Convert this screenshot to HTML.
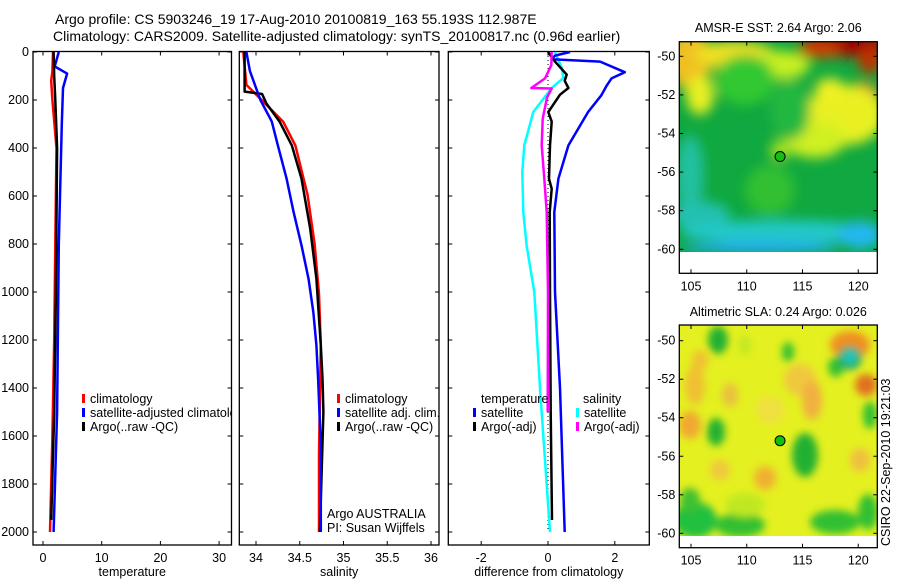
<!DOCTYPE html>
<html><head><meta charset="utf-8"><style>
html,body{margin:0;padding:0;background:#fff;}
svg text{font-family:"Liberation Sans",sans-serif;font-size:12.5px;fill:#000;}
svg text.ttl{font-size:14px;}
</style></head><body>
<svg id="fig" width="900" height="580" viewBox="0 0 900 580" xmlns="http://www.w3.org/2000/svg">
<defs>
<filter id="blur1" x="-20%" y="-20%" width="140%" height="140%"><feGaussianBlur stdDeviation="6"/></filter>
<filter id="blur2" x="-20%" y="-20%" width="140%" height="140%"><feGaussianBlur stdDeviation="4"/></filter>
<clipPath id="clipM1"><rect x="679" y="42" width="198" height="210"/></clipPath>
<clipPath id="clipM2"><rect x="679" y="325" width="198" height="211"/></clipPath>
<clipPath id="clipP1"><rect x="33" y="51" width="198" height="494"/></clipPath>
<clipPath id="clipP2"><rect x="239" y="51" width="200" height="494"/></clipPath>
<clipPath id="clipP3"><rect x="448" y="51" width="201" height="494"/></clipPath>
</defs>
<text class="ttl" x="55" y="24">Argo profile: CS 5903246_19 17-Aug-2010 20100819_163 55.193S 112.987E</text>
<text class="ttl" x="53" y="41">Climatology: CARS2009. Satellite-adjusted climatology: synTS_20100817.nc (0.96d earlier)</text>
<g id="g1"></g>
<g id="g2"></g>
<g id="g3"></g>
<g id="m1"></g>
<g id="m2"></g>
<text x="0" y="0" transform="translate(890,546) rotate(-90)">CSIRO 22-Sep-2010 19:21:03</text>
</svg>
<script>
// ---- data ----
const depthTicks=[0,200,400,600,800,1000,1200,1400,1600,1800,2000];
const tempTicks=[0,10,20,30];
const salTicks=[34,34.5,35,35.5,36];
const salTickLabels=["34","34.5","35","35.5","36"];
const diffTicks=[-2,0,2];
const lonTicks=[105,110,115,120];
const latTicks=[-50,-52,-54,-56,-58,-60];

const tClimDepth=[0,80,120,200,400,800,1200,1600,2000];
const tClimVal=[1.7,1.6,1.4,1.6,2.3,2.1,1.9,1.6,1.2];
const tSatDepth=[0,60,90,150,300,800,1500,2000];
const tSatVal=[2.7,2.0,4.1,3.4,3.2,2.7,2.4,1.8];
const tArgoDepth=[0,100,200,400,1000,1500,1950];
const tArgoVal=[1.8,1.9,2.1,2.4,2.2,1.9,1.4];

const sClimDepth=[0,137,200,290,390,596,800,1010,1220,1680,2000];
const sClimVal=[33.855,33.89,34.065,34.31,34.45,34.59,34.67,34.72,34.74,34.72,34.72];
const sSatDepth=[0,79,200,290,390,528,667,806,944,1083,1222,1360,1640,2000];
const sSatVal=[33.89,33.93,34.05,34.18,34.25,34.35,34.43,34.52,34.6,34.655,34.69,34.71,34.74,34.74];
const sArgoDepth=[0,165,175,215,290,390,528,736,944,1222,1360,1500,2000];
const sArgoVal=[33.87,33.87,34.07,34.12,34.27,34.41,34.52,34.62,34.69,34.74,34.76,34.77,34.73];

const dTSatDepth=[0,15,30,40,84,110,139,180,250,389,528,667,1000,1400,2000];
const dTSatVal=[0.66,0.21,0.11,1.56,2.3,1.9,1.76,1.6,1.2,0.61,0.31,0.19,0.21,0.36,0.5];
const dSSatDepth=[0,66,108,150,250,389,500,667,806,1000,1400,2000];
const dSSatVal=[0.21,0.41,0.46,0.11,-0.44,-0.71,-0.77,-0.74,-0.64,-0.41,-0.24,0.06];
const dTArgoDepth=[0,40,94,120,150,178,250,290,389,528,570,667,1000,1500,1950];
const dTArgoVal=[0,0.21,0.56,0.5,0.61,0.36,0.01,0.11,0.06,0.03,0.11,0.05,0.06,0.08,0.12];
const dSArgoDepth=[0,55,110,150,152,190,278,389,528,667,1000,1500];
const dSArgoVal=[0.11,0.1,-0.09,-0.5,0.11,-0.03,-0.16,-0.19,-0.11,-0.04,0,-0.01];

const argoLon=112.987, argoLat=-55.193;

// ---- helpers ----
const NS="http://www.w3.org/2000/svg";
function mk(tag,attrs,parent){const e=document.createElementNS(NS,tag);for(const k in attrs)e.setAttribute(k,attrs[k]);if(parent)parent.appendChild(e);return e;}
const yD=d=>52+d*0.24;
function panelAxes(g,L,R,T,B,xs,ticks,labels,xlabel,showY){
  const box=mk('rect',{x:L,y:T,width:R-L,height:B-T,fill:'none',stroke:'#000','stroke-width':1.3},g);
  
  
  depthTicks.forEach(d=>{const y=yD(d);
    mk('line',{x1:L,x2:L+4,y1:y,y2:y,stroke:'#000'},g);
    mk('line',{x1:R,x2:R-4,y1:y,y2:y,stroke:'#000'},g);
    if(showY){const t=mk('text',{x:L-4,y:y+4,'text-anchor':'end'},g);t.textContent=d;
      
      }
  });
  ticks.forEach((v,i)=>{const x=xs(v);
    mk('line',{x1:x,x2:x,y1:B,y2:B-4,stroke:'#000'},g);
    mk('line',{x1:x,x2:x,y1:T,y2:T+4,stroke:'#000'},g);
    const t=mk('text',{x:x,y:B+17,'text-anchor':'middle'},g);t.textContent=labels[i];
    
    
  });
  const xl=mk('text',{x:(L+R)/2,y:B+31,'text-anchor':'middle'},g);xl.textContent=xlabel;
  
  
}
function line(g,xs,ds,vs,color,w,name,clip){
  const pts=ds.map((d,i)=>xs(vs[i]).toFixed(1)+','+yD(d).toFixed(1)).join(' ');
  const p=mk('polyline',{points:pts,fill:'none',stroke:color,'stroke-width':w,'stroke-linejoin':'round','clip-path':'url(#'+clip+')'},g);
  
  
}
function legendEntry(g,x,y,color,label,name){
  mk('rect',{x:x,y:y-5,width:3,height:9,fill:color},g);
  const t=mk('text',{x:x+8,y:y+4},g);t.textContent=label;
  
  
}

// ---- panel 1: temperature ----
const g1=document.getElementById('g1');
const xT=v=>43+v*5.87;
panelAxes(g1,33,231.5,51.5,545,xT,tempTicks,tempTicks.map(String),'temperature',true);
line(g1,xT,tClimDepth,tClimVal,'#f00',2.5,'temperature-climatology-line','clipP1');
line(g1,xT,tSatDepth,tSatVal,'#00f',2.5,'temperature-satellite-line','clipP1');
line(g1,xT,tArgoDepth,tArgoVal,'#000',2.5,'temperature-argo-line','clipP1');
const lg1=mk('g',{'clip-path':'url(#clipP1)'},g1);
legendEntry(lg1,82,399,'#f00','climatology','legend-climatology');
legendEntry(lg1,82,413,'#00f','satellite-adjusted climatology','legend-satellite');
legendEntry(lg1,82,427,'#000','Argo(..raw -QC)','legend-argo');

// ---- panel 2: salinity ----
const g2=document.getElementById('g2');
const xS=v=>256+(v-34)*87.5;
panelAxes(g2,239.3,439,51.5,545,xS,salTicks,salTickLabels,'salinity',false);
line(g2,xS,sClimDepth,sClimVal,'#f00',2.5,'salinity-climatology-line','clipP2');
line(g2,xS,sArgoDepth,sArgoVal,'#000',2.5,'salinity-argo-line','clipP2');
line(g2,xS,sSatDepth,sSatVal,'#00f',2.5,'salinity-satellite-line','clipP2');
legendEntry(g2,337,399,'#f00','climatology','legend-climatology');
legendEntry(g2,337,413,'#00f','satellite adj. clim.','legend-satellite');
legendEntry(g2,337,427,'#000','Argo(..raw -QC)','legend-argo');
const a1=mk('text',{x:327,y:518},g2);a1.textContent='Argo AUSTRALIA';


const a2=mk('text',{x:327,y:532},g2);a2.textContent='PI: Susan Wijffels';



// ---- panel 3: differences ----
const g3=document.getElementById('g3');
const xDf=v=>548+v*33.4;
panelAxes(g3,448.3,649.3,51.5,545,xDf,diffTicks,diffTicks.map(String),'difference from climatology',false);
mk('line',{x1:xDf(0),x2:xDf(0),y1:yD(0),y2:yD(2000),stroke:'#000','stroke-dasharray':'1,3'},g3);
line(g3,xDf,dSSatDepth,dSSatVal,'#0ff',2.5,'salinity-satellite-diff-line','clipP3');
line(g3,xDf,dTSatDepth,dTSatVal,'#00f',2.5,'temperature-satellite-diff-line','clipP3');
line(g3,xDf,dTArgoDepth,dTArgoVal,'#000',2.5,'temperature-argo-diff-line','clipP3');
line(g3,xDf,dSArgoDepth,dSArgoVal,'#f0f',2.5,'salinity-argo-diff-line','clipP3');
const h1=mk('text',{x:481,y:403},g3);h1.textContent='temperature';


const h2=mk('text',{x:583,y:403},g3);h2.textContent='salinity';


legendEntry(g3,473,413,'#00f','satellite','legend-temp-satellite');
legendEntry(g3,473,427,'#000','Argo(-adj)','legend-temp-argo');
legendEntry(g3,576,413,'#0ff','satellite','legend-sal-satellite');
legendEntry(g3,576,427,'#f0f','Argo(-adj)','legend-sal-argo');

// ---- maps ----
const xLon=v=>691+(v-105)*11.15;
function mapAxes(g,T,B,yLat,title,titleY){
  const L=679.3,R=877.3;
  mk('rect',{x:L,y:T,width:R-L,height:B-T,fill:'none',stroke:'#000','stroke-width':1.3},g);
  lonTicks.forEach(v=>{const x=xLon(v);
    mk('line',{x1:x,x2:x,y1:T,y2:T+4,stroke:'#000'},g);
    mk('line',{x1:x,x2:x,y1:B,y2:B-4,stroke:'#000'},g);
    const t=mk('text',{x:x,y:B+17,'text-anchor':'middle'},g);t.textContent=v;
    
    });
  latTicks.forEach(v=>{const y=yLat(v);
    mk('line',{x1:L,x2:L+4,y1:y,y2:y,stroke:'#000'},g);
    mk('line',{x1:R,x2:R-4,y1:y,y2:y,stroke:'#000'},g);
    const t=mk('text',{x:L-4,y:y+4,'text-anchor':'end'},g);t.textContent=v;
    
    });
  const tt=mk('text',{x:(L+R)/2,y:titleY,'text-anchor':'middle'},g);tt.textContent=title;
  
  
}
function blobs(g,clip,filt,base,list,x0,y0,w,h){
  const cg=mk('g',{'clip-path':'url(#'+clip+')'},g);
  mk('rect',{x:x0,y:y0,width:w,height:h,fill:base},cg);
  const bg=mk('g',{filter:'url(#'+filt+')'},cg);
  list.forEach(b=>mk('ellipse',{cx:b[0],cy:b[1],rx:b[2],ry:b[3],fill:b[4]},bg));
}
// SST map
const m1=document.getElementById('m1');
const yLat1=v=>56.3+(-50-v)*19.3;
blobs(m1,'clipM1','blur1','#10a840',[
 [690,60,22,30,'#f0c020'],[700,95,14,20,'#e8f020'],[735,55,40,14,'#f0e020'],[780,65,30,14,'#c8f020'],
 [845,45,45,12,'#a00000'],[820,50,22,8,'#d04000'],[870,60,12,14,'#c03000'],
 [862,100,18,18,'#f08020'],[845,115,40,30,'#e8f020'],[815,140,30,18,'#d0f020'],[830,90,15,12,'#f0f020'],
 [745,80,30,25,'#30c830'],[790,110,20,30,'#20b840'],[780,150,10,10,'#a0e020'],[770,190,25,25,'#30c030'],
 [690,175,14,40,'#20c0a0'],[700,215,30,14,'#20c0b0'],[780,232,100,12,'#20c8c8'],[760,248,80,6,'#20a8f0'],[860,235,22,14,'#20b8f0']
],679,42,198,210);
mapAxes(m1,41.7,273.3,yLat1,'AMSR-E SST: 2.64 Argo: 2.06',32);
const d1=mk('circle',{cx:xLon(argoLon),cy:yLat1(argoLat),r:5,fill:'#10c010',stroke:'#000','stroke-width':1},m1);


// SLA map
const m2=document.getElementById('m2');
const yLat2=v=>340.7+(-50-v)*19.26;
blobs(m2,'clipM2','blur2','#e4f020',[
 [718,340,10,14,'#20b030'],[695,385,10,20,'#f0c030'],[690,425,11,14,'#f0a830'],[695,520,22,18,'#20c040'],[740,525,25,12,'#30c030'],
 [800,380,16,16,'#f0c840'],[788,352,6,10,'#30c030'],[836,367,8,10,'#30c030'],[812,400,10,20,'#f0b040'],[805,455,13,22,'#20b030'],
 [765,478,11,12,'#f0b030'],[850,345,20,14,'#f09020'],[850,358,12,12,'#20a860'],[850,357,7,7,'#20c8c0'],[866,385,11,11,'#e07020'],
 [870,415,7,14,'#30c030'],[716,432,9,14,'#20b030'],[835,522,25,12,'#30c030'],[868,512,10,18,'#30c030'],[770,410,14,14,'#f0e040'],
 [730,395,8,12,'#e8c040'],[745,345,6,10,'#c0e820'],[700,360,8,10,'#f0c030'],[720,470,10,10,'#f0c840'],[860,460,10,12,'#f0c040'],
 [745,505,20,12,'#c0e820'],[690,500,10,12,'#40c030']
],679,325,198,211);
mapAxes(m2,325,547.7,yLat2,'Altimetric SLA: 0.24 Argo: 0.026',316);
const d2=mk('circle',{cx:xLon(argoLon),cy:yLat2(argoLat),r:5,fill:'#10c010',stroke:'#000','stroke-width':1},m2);


</script>
</body></html>
